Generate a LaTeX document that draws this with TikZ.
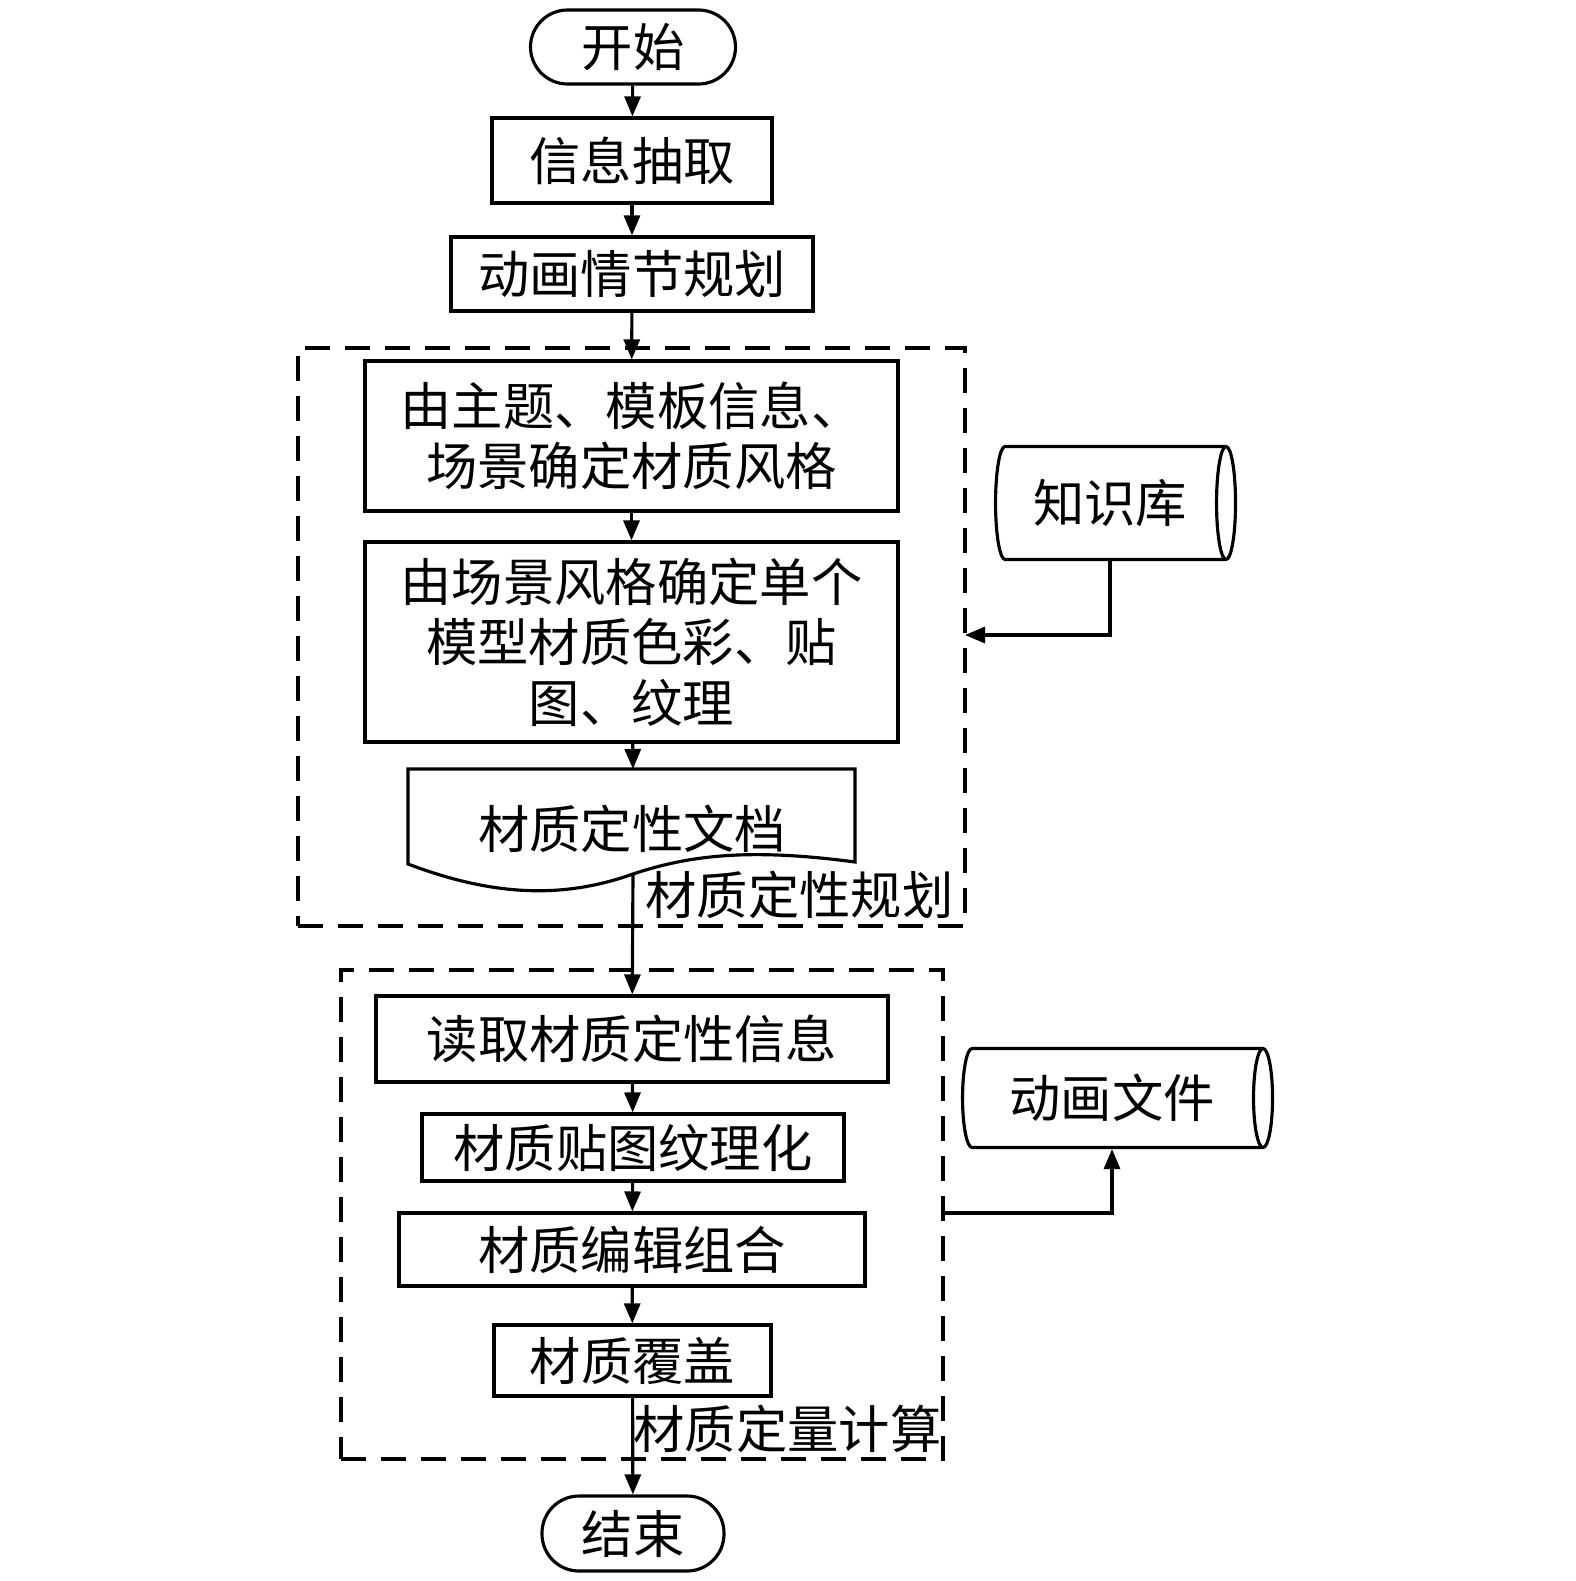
\documentclass[tikz,border=0pt]{standalone}
\usepackage{fontspec}
\newfontfamily\cjk{Noto Sans CJK SC}
\usepackage{tikz}
\usetikzlibrary{arrows.meta}
\usetikzlibrary{shapes.geometric}
\begin{document}
\begin{tikzpicture}[
  font=\cjk\fontsize{14.6}{17.2}\selectfont,
  line width=0.9pt,
  box/.style={draw, rectangle, inner sep=0pt, align=center},
  term/.style={draw, rectangle, rounded corners=0.37cm, inner sep=0pt},
  grp/.style={draw, rectangle, dash pattern=on 0.25cm off 0.15cm, inner sep=0pt},
  store/.style={draw, cylinder, aspect=0.4, inner sep=0pt},
  arr/.style={-{Triangle[length=0.2cm,width=0.16cm]}},
  tag/.style={inner sep=0pt, anchor=east}
]
\useasboundingbox (0,0) rectangle (15.75,-15.81);
\node [term, minimum width=2.05cm, minimum height=0.74cm] (start) at (6.33,-0.47) {开始};
\node [box, minimum width=2.80cm, minimum height=0.85cm] (s1) at (6.32,-1.605) {信息抽取};
\node [box, minimum width=3.62cm, minimum height=0.74cm] (s2) at (6.32,-2.74) {动画情节规划};
\node [grp, minimum width=6.67cm, minimum height=5.78cm] (g1) at (6.315,-6.37) {};
\node [box, minimum width=5.33cm, minimum height=1.50cm] (s3) at (6.315,-4.36) {由主题、模板信息、\\场景确定材质风格};
\node [box, minimum width=5.33cm, minimum height=2.00cm] (s4) at (6.315,-6.42) {由场景风格确定单个\\模型材质色彩、贴\\图、纹理};
\draw (4.08,-7.69) -- (8.55,-7.69) -- (8.55,-8.62) .. controls (7.50,-8.48) and (6.90,-8.55) .. (6.33,-8.74) .. controls (5.60,-9.00) and (4.90,-8.95) .. (4.08,-8.64) -- cycle;
\node [inner sep=0pt] (doc) at (6.32,-8.29) {材质定性文档};
\coordinate (doctop) at (6.33,-7.69);
\coordinate (docb) at (6.33,-8.74);
\node [tag] (t1) at (9.55,-8.95) {材质定性规划};
\node [store, minimum width=1.13cm, minimum height=2.40cm] (kb) at (11.10,-5.03) {知识库};
\coordinate (kbin) at (9.65,-6.35);
\node [grp, minimum width=6.02cm, minimum height=4.89cm] (g2) at (6.42,-12.145) {};
\node [box, minimum width=5.12cm, minimum height=0.86cm] (s5) at (6.32,-10.39) {读取材质定性信息};
\node [box, minimum width=4.22cm, minimum height=0.67cm] (s6) at (6.33,-11.475) {材质贴图纹理化};
\node [box, minimum width=4.66cm, minimum height=0.73cm] (s7) at (6.32,-12.495) {材质编辑组合};
\node [box, minimum width=2.77cm, minimum height=0.71cm] (s8) at (6.325,-13.605) {材质覆盖};
\node [tag] (t2) at (9.43,-14.29) {材质定量计算};
\node [term, minimum width=1.82cm, minimum height=0.75cm] (end) at (6.33,-15.335) {结束};
\node [store, minimum width=0.99cm, minimum height=3.10cm] (af) at (11.12,-10.98) {动画文件};
\coordinate (afout) at (9.43,-12.13);
\draw [arr] (start) -- (s1);
\draw [arr] (s1) -- (s2);
\draw [arr] (s2) -- (s3);
\draw [arr] (s3) -- (s4);
\draw [arr] (s4) -- (doctop);
\draw [arr] (docb) -- (s5);
\draw [arr] (s5) -- (s6);
\draw [arr] (s6) -- (s7);
\draw [arr] (s7) -- (s8);
\draw [arr] (s8) -- (end);
\draw [arr] (kb.south) |- (kbin);
\draw [arr] (afout) -| (af.south);
\end{tikzpicture}
\end{document}
